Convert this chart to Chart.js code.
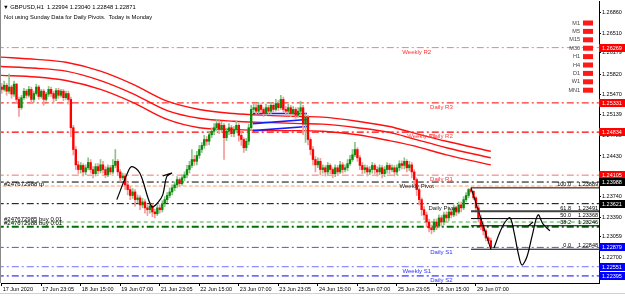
<!DOCTYPE html>
<html>
<head>
<meta charset="utf-8">
<script src="https://cdn.jsdelivr.net/npm/chart.js@4.4.1/dist/chart.umd.min.js"></script>
<style>
html, body { margin: 0; padding: 0; background: #fff; overflow: hidden; }
canvas { display: block; }
</style>
</head>
<body>
<canvas id="chart" width="625" height="297"></canvas>
<script>
// GBPUSD H1 candles, bar 0 = 17 Jun 2020
const firstOpen = 1.2560;
const closes = [
	1.2556, 1.2563, 1.2553, 1.2560, 1.2548, 1.2565, 1.2539, 1.2525, 1.2542, 1.2553,
	1.2546, 1.2556, 1.2539, 1.2549, 1.2560, 1.2544, 1.2553, 1.2539, 1.2548, 1.2556,
	1.2549, 1.2541, 1.2554, 1.2546, 1.2553, 1.2542, 1.2549, 1.2539, 1.2491, 1.2454,
	1.2428, 1.2420, 1.2427, 1.2416, 1.2423, 1.2432, 1.2420, 1.2413, 1.2425, 1.2418,
	1.2428, 1.2420, 1.2411, 1.2423, 1.2416, 1.2427, 1.2434, 1.2416, 1.2406, 1.2409,
	1.2394, 1.2386, 1.2376, 1.2382, 1.2369, 1.2372, 1.2360, 1.2365, 1.2355, 1.2352,
	1.2358, 1.2348, 1.2345, 1.2355, 1.2352, 1.2362, 1.2369, 1.2376, 1.2382, 1.2389,
	1.2394, 1.2403, 1.2396, 1.2406, 1.2411, 1.2420, 1.2427, 1.2437, 1.2434, 1.2444,
	1.2454, 1.2461, 1.2471, 1.2468, 1.2479, 1.2485, 1.2491, 1.2498, 1.2488, 1.2495,
	1.2474, 1.2485, 1.2491, 1.2481, 1.2488, 1.2495, 1.2478, 1.2471, 1.2457, 1.2468,
	1.2491, 1.2522, 1.2525, 1.2519, 1.2529, 1.2522, 1.2515, 1.2525, 1.2519, 1.2529,
	1.2522, 1.2532, 1.2525, 1.2539, 1.2522, 1.2519, 1.2525, 1.2515, 1.2522, 1.2512,
	1.2519, 1.2525, 1.2497, 1.2509, 1.2471, 1.2454, 1.2437, 1.2428, 1.2434, 1.2420,
	1.2423, 1.2416, 1.2427, 1.2420, 1.2413, 1.2423, 1.2416, 1.2428, 1.2420, 1.2423,
	1.2430, 1.2437, 1.2445, 1.2454, 1.2440, 1.2427, 1.2420, 1.2423, 1.2416, 1.2420,
	1.2427, 1.2420, 1.2416, 1.2423, 1.2413, 1.2420, 1.2427, 1.2420, 1.2423, 1.2416,
	1.2423, 1.2430, 1.2427, 1.2434, 1.2423, 1.2428, 1.2416, 1.2403, 1.2386, 1.2369,
	1.2352, 1.2343, 1.2331, 1.2321, 1.2318, 1.2331, 1.2324, 1.2338, 1.2331, 1.2343,
	1.2338, 1.2348, 1.2343, 1.2355, 1.2348, 1.2360, 1.2355, 1.2369, 1.2376, 1.2386,
	1.2383, 1.2372, 1.2355, 1.2338, 1.2324, 1.2316, 1.2304, 1.22994, 1.22871
];
const highs = [
	1.2566, 1.2570, 1.2566, 1.2582, 1.2563, 1.2570, 1.2566, 1.2543, 1.2546, 1.2558,
	1.2556, 1.2561, 1.2560, 1.2553, 1.2565, 1.2563, 1.2556, 1.2556, 1.2551, 1.2561,
	1.2560, 1.2553, 1.2558, 1.2558, 1.2556, 1.2556, 1.2553, 1.2553, 1.2543, 1.2495,
	1.2459, 1.2434, 1.2432, 1.2430, 1.2428, 1.2440, 1.2437, 1.2425, 1.2430, 1.2430,
	1.2437, 1.2434, 1.2425, 1.2428, 1.2427, 1.2437, 1.2454, 1.2437, 1.2420, 1.2414,
	1.2413, 1.2398, 1.2391, 1.2388, 1.2386, 1.2377, 1.2376, 1.2371, 1.2369, 1.2360,
	1.2364, 1.2362, 1.2353, 1.2360, 1.2360, 1.2367, 1.2374, 1.2381, 1.2389, 1.2394,
	1.2399, 1.2408, 1.2406, 1.2411, 1.2416, 1.2427, 1.2434, 1.2454, 1.2444, 1.2451,
	1.2461, 1.2466, 1.2478, 1.2476, 1.2485, 1.2491, 1.2498, 1.2505, 1.2503, 1.2502,
	1.2498, 1.2490, 1.2498, 1.2495, 1.2493, 1.2502, 1.2498, 1.2483, 1.2474, 1.2473,
	1.2497, 1.2529, 1.2532, 1.2531, 1.2534, 1.2532, 1.2525, 1.2531, 1.2529, 1.2534,
	1.2532, 1.2539, 1.2537, 1.2546, 1.2543, 1.2527, 1.2531, 1.2529, 1.2527, 1.2525,
	1.2525, 1.2536, 1.2529, 1.2515, 1.2512, 1.2474, 1.2459, 1.2442, 1.2440, 1.2439,
	1.2428, 1.2427, 1.2432, 1.2430, 1.2423, 1.2428, 1.2427, 1.2434, 1.2432, 1.2428,
	1.2437, 1.2444, 1.2454, 1.2466, 1.2457, 1.2444, 1.2432, 1.2428, 1.2427, 1.2425,
	1.2432, 1.2430, 1.2425, 1.2428, 1.2427, 1.2425, 1.2432, 1.2430, 1.2428, 1.2427,
	1.2428, 1.2435, 1.2435, 1.2440, 1.2437, 1.2434, 1.2432, 1.2420, 1.2406, 1.2389,
	1.2372, 1.2357, 1.2348, 1.2336, 1.2326, 1.2336, 1.2336, 1.2343, 1.2342, 1.2348,
	1.2348, 1.2355, 1.2353, 1.2360, 1.2358, 1.2365, 1.2365, 1.2374, 1.2381, 1.2388,
	1.23889, 1.2384, 1.2374, 1.2360, 1.2343, 1.2330, 1.2319, 1.2307, 1.23040
];
const lows = [
	1.2549, 1.2553, 1.2546, 1.2549, 1.2541, 1.2544, 1.2532, 1.2510, 1.2522, 1.2539,
	1.2541, 1.2543, 1.2532, 1.2534, 1.2546, 1.2539, 1.2541, 1.2529, 1.2536, 1.2544,
	1.2544, 1.2534, 1.2537, 1.2541, 1.2543, 1.2537, 1.2539, 1.2531, 1.2476, 1.2445,
	1.2420, 1.2413, 1.2414, 1.2409, 1.2411, 1.2420, 1.2414, 1.2406, 1.2409, 1.2413,
	1.2414, 1.2414, 1.2406, 1.2408, 1.2411, 1.2413, 1.2423, 1.2411, 1.2399, 1.2403,
	1.2386, 1.2377, 1.2369, 1.2371, 1.2358, 1.2364, 1.2352, 1.2355, 1.2346, 1.2342,
	1.2346, 1.2340, 1.2338, 1.2342, 1.2346, 1.2348, 1.2357, 1.2364, 1.2372, 1.2377,
	1.2384, 1.2389, 1.2391, 1.2393, 1.2401, 1.2406, 1.2414, 1.2423, 1.2427, 1.2428,
	1.2439, 1.2449, 1.2456, 1.2461, 1.2462, 1.2474, 1.2479, 1.2486, 1.2481, 1.2483,
	1.2437, 1.2469, 1.2479, 1.2476, 1.2476, 1.2483, 1.2468, 1.2461, 1.2449, 1.2452,
	1.2462, 1.2486, 1.2517, 1.2514, 1.2515, 1.2517, 1.2510, 1.2512, 1.2514, 1.2515,
	1.2517, 1.2519, 1.2520, 1.2522, 1.2517, 1.2512, 1.2514, 1.2510, 1.2512, 1.2507,
	1.2509, 1.2512, 1.2479, 1.2466, 1.2462, 1.2445, 1.2428, 1.2416, 1.2423, 1.2411,
	1.2414, 1.2409, 1.2411, 1.2413, 1.2406, 1.2408, 1.2411, 1.2413, 1.2414, 1.2416,
	1.2418, 1.2427, 1.2434, 1.2442, 1.2434, 1.2420, 1.2413, 1.2414, 1.2409, 1.2411,
	1.2414, 1.2413, 1.2409, 1.2411, 1.2406, 1.2408, 1.2414, 1.2413, 1.2416, 1.2409,
	1.2411, 1.2418, 1.2421, 1.2421, 1.2416, 1.2418, 1.2406, 1.2394, 1.2376, 1.2360,
	1.2342, 1.2335, 1.2323, 1.2314, 1.2311, 1.2314, 1.2318, 1.2321, 1.2324, 1.2326,
	1.2331, 1.2333, 1.2338, 1.2340, 1.2342, 1.2345, 1.2348, 1.2352, 1.2365, 1.2372,
	1.2380, 1.2369, 1.2348, 1.2331, 1.2318, 1.2309, 1.2299, 1.2294, 1.22848
];

const timeTickBars = [0, 16, 32, 48, 64, 80, 96, 112, 128, 144, 160, 176, 192];
const timeLabels = ['17 Jun 2020', '17 Jun 23:05', '18 Jun 15:00', '19 Jun 07:00', '21 Jun 23:05', '22 Jun 15:00',
	'23 Jun 07:00', '23 Jun 23:05', '24 Jun 15:00', '25 Jun 07:00', '25 Jun 23:05', '26 Jun 15:00', '29 Jun 07:00'];
const priceTicks = [1.26860, 1.26510, 1.26179, 1.25820, 1.25470, 1.25139, 1.24780, 1.24430, 1.23740, 1.23390, 1.23059, 1.22700];

// pivot levels
const pivotNames = ['Weekly R2', 'Daily R3', 'Weekly R1', 'Daily R2', 'Daily R1', 'Weekly Pivot', 'Daily Pivot', 'Daily S1', 'Weekly S1', 'Daily S2'];
const pivotPrices = [1.26269, 1.25331, 1.24834, 1.24834, 1.24105, 1.23988, 1.23621, 1.22879, 1.22551, 1.22395];

// open orders
const orderNames = ['#247672988 tp', '#247672985 buy 0.01', '#247672988 buy 0.01'];
const orderPrices = [1.2392, 1.2331, 1.2323];

// fibonacci from the 29 Jun swing
const fibLevels = ['100.0', '61.8', '50.0', '38.2', '0.0'];
const fibPrices = [1.23889, 1.23491, 1.23368, 1.23246, 1.22848];
const fibStartBar = 190;
const fibEndBar = 198;

// moving average envelope
const maBars = [-1, 14, 26, 40, 53, 67, 80, 94, 107, 121, 130, 144, 157, 166, 180, 198];
const maUpper = [1.2611, 1.2607, 1.2602, 1.2587, 1.2565, 1.2536, 1.2522, 1.2515, 1.2512, 1.2510, 1.2509, 1.2502, 1.2493, 1.2483, 1.2468, 1.2451];
const maMiddle = [1.2595, 1.2592, 1.2587, 1.2571, 1.2549, 1.2520, 1.2507, 1.2502, 1.2500, 1.2498, 1.2497, 1.2491, 1.2483, 1.2473, 1.2457, 1.2440];
const maLower = [1.2580, 1.2577, 1.2571, 1.2556, 1.2534, 1.2505, 1.2491, 1.2488, 1.2486, 1.2486, 1.2485, 1.2479, 1.2469, 1.2461, 1.2445, 1.2428];

// short blue envelope segment
const blueBars = [101.7, 123.6];
const blueUpper = [1.2515, 1.2515];
const blueMiddle = [1.2498, 1.2505];
const blueLower = [1.2486, 1.2493];

// hand drawn strokes
const stroke1Bars = [46.6, 50.6, 52.6, 55.9, 60.7, 63.2, 65.2, 66.8, 68.8, 65.2];
const stroke1Prices = [1.2369, 1.2411, 1.2425, 1.2414, 1.2357, 1.2364, 1.2377, 1.2408, 1.2414, 1.2409];
const stroke2Bars = [199.3, 201.7, 203.8, 205.8, 207.4, 209.0, 210.6, 212.7, 214.7, 217.1, 219.1, 221.9];
const stroke2Prices = [1.2287, 1.2314, 1.2331, 1.2338, 1.2314, 1.2280, 1.2258, 1.2273, 1.2307, 1.2343, 1.2328, 1.2316];
const stroke3Bars = [213.1, 215.1];
const stroke3Prices = [1.2324, 1.2331];

const tfNames = ['M1', 'M5', 'M15', 'M30', 'H1', 'H4', 'D1', 'W1', 'MN1'];

// ---- styles ----
const FONT = '"Liberation Sans", Arial, sans-serif';
const DASHDOT = [7, 3, 2, 3];
const pivotStyle = [
	{ line: '#f08080', w: 1, text: '#ff3030', bar: 168 },
	{ line: '#ff0000', w: 1, text: '#ff3030', bar: 178 },
	{ line: '#ff0000', w: 1.2, text: '#ff4040', bar: 170 },
	{ line: '#ff0000', w: 0, text: '#ff4040', bar: 178 },
	{ line: '#f07070', w: 1, text: '#ff3030', bar: 178 },
	{ line: '#000000', w: 1, text: '#202020', bar: 168 },
	{ line: '#000000', w: 1, text: '#202020', bar: 178.5 },
	{ line: '#5050ff', w: 1, text: '#3030ff', bar: 178 },
	{ line: '#7070ff', w: 1, text: '#3030ff', bar: 168 },
	{ line: '#0000ff', w: 1, text: '#3030ff', bar: 178 }
];
const orderStyle = [
	{ line: '#f4a070', w: 1, dash: [4, 2], text: '#000' },
	{ line: '#40b040', w: 1, dash: [4, 3], text: '#000' },
	{ line: '#007000', w: 2, dash: DASHDOT, text: '#000' }
];
const axisBoxes = [
	{ p: 1.26269, c: '#ff0000' }, { p: 1.25331, c: '#ff0000' }, { p: 1.24834, c: '#ff0000' },
	{ p: 1.24105, c: '#ff0000' }, { p: 1.23988, c: '#000000' }, { p: 1.23621, c: '#000000' },
	{ p: 1.22879, c: '#0000ff' }, { p: 1.22551, c: '#0000ff' }, { p: 1.22395, c: '#0000ff' }
];

const opens = closes.map((c, i) => i ? closes[i - 1] : firstOpen);
const isUp = closes.map((c, i) => c >= opens[i]);

function pts(xs, ys) { return xs.map((x, i) => ({ x: x, y: ys[i] })); }
function hline(p, color, w, dash, order) {
	return {
		type: 'line', data: [{ x: -2, y: p }, { x: 250, y: p }], borderColor: color, borderWidth: w,
		borderDash: dash, pointRadius: 0, order: order
	};
}
function curve(xs, ys, color, w, order, tension) {
	return {
		type: 'line', data: pts(xs, ys), borderColor: color, borderWidth: w, pointRadius: 0,
		tension: tension, order: order
	};
}

const datasets = [];
pivotPrices.forEach((p, i) => {
	if (pivotStyle[i].w > 0) datasets.push(hline(p, pivotStyle[i].line, pivotStyle[i].w, DASHDOT, 60));
});
orderPrices.forEach((p, i) => datasets.push(hline(p, orderStyle[i].line, orderStyle[i].w, orderStyle[i].dash, 55)));

[maUpper, maMiddle, maLower].forEach(arr => {
	const d = curve(maBars, arr, '#ff1010', 1.4, 40, 0);
	d.cubicInterpolationMode = 'monotone';
	datasets.push(d);
});
[blueUpper, blueMiddle, blueLower].forEach(arr => datasets.push(curve(blueBars, arr, '#1020ff', 1.6, 35, 0)));

datasets.push({
	type: 'bar', label: 'wicks', order: 30, grouped: false, barThickness: 1,
	data: closes.map((c, i) => ({ x: i, y: [lows[i], highs[i]] })),
	backgroundColor: isUp.map(u => u ? '#86c686' : '#f59a9a')
});
datasets.push({
	type: 'bar', label: 'bodies', order: 20, grouped: false, barThickness: 1.7,
	data: closes.map((c, i) => ({ x: i, y: [opens[i], c] })),
	backgroundColor: isUp.map(u => u ? '#0a8a0a' : '#ff0000')
});

// fibonacci levels and trend line
fibPrices.forEach((p, i) => {
	datasets.push({
		type: 'line', data: [{ x: fibStartBar, y: p }, { x: 250, y: p }],
		borderColor: i === 1 ? '#404040' : '#000000', borderWidth: i === 1 ? 2 : 1,
		pointRadius: 0, order: 10
	});
});
datasets.push(curve([fibStartBar, fibEndBar], [fibPrices[0], fibPrices[4]], '#000', 1, 10, 0));

datasets.push(curve(stroke1Bars, stroke1Prices, '#000', 1.2, 5, 0.35));
datasets.push(curve(stroke2Bars, stroke2Prices, '#000', 1.2, 5, 0.35));
datasets.push(curve(stroke3Bars, stroke3Prices, '#000', 1.2, 5, 0));

const overlay = {
	id: 'overlay',
	afterDatasetsDraw(chart) {
		const { ctx, chartArea: a } = chart;
		const x = chart.scales.x, y = chart.scales.y;
		ctx.save();
		ctx.beginPath();
		ctx.rect(a.left, a.top, a.right - a.left, a.bottom - a.top);
		ctx.clip();

		ctx.font = '6px ' + FONT;
		ctx.textAlign = 'center';
		ctx.textBaseline = 'top';
		pivotNames.forEach((n, i) => {
			ctx.fillStyle = pivotStyle[i].text;
			ctx.fillText(n, x.getPixelForValue(pivotStyle[i].bar), y.getPixelForValue(pivotPrices[i]) + 1.5);
		});

		ctx.textAlign = 'left';
		ctx.textBaseline = 'bottom';
		orderNames.forEach((n, i) => {
			ctx.fillStyle = orderStyle[i].text;
			ctx.fillText(n, a.left + 3, y.getPixelForValue(orderPrices[i]) + (i === 0 ? 1 : 0));
		});

		ctx.font = '5.5px ' + FONT;
		ctx.fillStyle = '#000';
		fibLevels.forEach((lv, i) => {
			const py = y.getPixelForValue(fibPrices[i]) - 0.5;
			ctx.textAlign = 'right';
			ctx.fillText(lv, a.right - 28, py);
			ctx.fillText(fibPrices[i].toFixed(5), a.right - 1, py);
		});
		ctx.restore();
	},
	afterDraw(chart) {
		const { ctx, chartArea: a } = chart;
		const y = chart.scales.y;
		ctx.save();
		// price boxes on the axis
		ctx.font = '5.5px ' + FONT;
		ctx.textBaseline = 'middle';
		ctx.textAlign = 'left';
		axisBoxes.forEach(b => {
			const py = Math.round(y.getPixelForValue(b.p));
			ctx.fillStyle = b.c;
			ctx.fillRect(a.right, py - 4, 26, 8);
			ctx.fillStyle = '#fff';
			ctx.fillText(b.p.toFixed(5), a.right + 3, py + 0.5);
		});
		// timeframe panel
		tfNames.forEach((n, i) => {
			const py = 23 + i * 8.4;
			ctx.fillStyle = '#404040';
			ctx.textAlign = 'right';
			ctx.fillText(n, 580, py);
			ctx.fillStyle = '#ff1a1a';
			ctx.fillRect(583, py - 2.5, 10, 5);
		});
		// header
		ctx.fillStyle = '#000';
		ctx.textAlign = 'left';
		ctx.font = '5.8px ' + FONT;
		ctx.fillText('\u25BC GBPUSD,H1  1.22994 1.23040 1.22848 1.22871', 3, 7);
		ctx.fillText('Not using Sunday Data for Daily Pivots.  Today is Monday', 4, 17);
		// window edges
		ctx.strokeStyle = '#8a8a8a';
		ctx.lineWidth = 1;
		ctx.beginPath();
		ctx.moveTo(0.5, 0); ctx.lineTo(0.5, a.bottom);
		ctx.stroke();
		ctx.strokeStyle = '#d0d0d0';
		ctx.beginPath();
		ctx.moveTo(0, 293.5); ctx.lineTo(625, 293.5);
		ctx.stroke();
		ctx.restore();
	}
};

const ctx = document.getElementById('chart');
const myChart = new Chart(ctx, {
	type: 'bar',
	data: { datasets: datasets },
	options: {
		responsive: false,
		animation: false,
		events: [],
		layout: { autoPadding: false, padding: { left: 1, top: 1, right: 0, bottom: 0 } },
		plugins: { legend: { display: false }, tooltip: { enabled: false } },
		scales: {
			x: {
				type: 'linear', min: -0.28, max: 241.8, offset: false,
				afterBuildTicks: s => { s.ticks = timeTickBars.map(v => ({ value: v })); },
				afterFit: s => { s.height = 14; s.paddingLeft = 0; s.paddingRight = 0; },
				ticks: {
					autoSkip: false, maxRotation: 0, align: 'start', padding: 0, labelOffset: 1,
					color: '#000', font: { family: FONT, size: 5.5 },
					callback: (v, i) => timeLabels[i]
				},
				grid: { offset: false, drawOnChartArea: false, tickLength: 3, color: '#000' },
				border: { color: '#000' }
			},
			y: {
				position: 'right', min: 1.22275, max: 1.2706,
				afterBuildTicks: s => { s.ticks = priceTicks.map(v => ({ value: v })); },
				afterFit: s => { s.width = 26; s.paddingTop = 0; s.paddingBottom = 0; },
				ticks: {
					padding: 1, color: '#000', font: { family: FONT, size: 5.5 },
					callback: v => v.toFixed(5)
				},
				grid: { drawOnChartArea: false, tickLength: 2, color: '#000' },
				border: { color: '#000' }
			}
		}
	},
	plugins: [overlay]
});
</script>
</body>
</html>
